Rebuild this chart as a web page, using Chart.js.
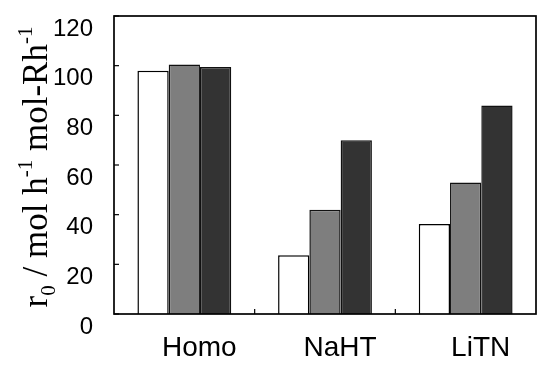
<!DOCTYPE html>
<html>
<head>
<meta charset="utf-8">
<script src="https://cdn.jsdelivr.net/npm/chart.js@4"></script>
<style>
  html, body { margin: 0; padding: 0; background: #fff; }
  #wrap { width: 537px; height: 367px; }
</style>
</head>
<body>
<div id="wrap"><canvas id="myChart"></canvas></div>
<script>
///data
var catalysts = ['Homo', 'NaHT', 'LiTN'];
var series_a = [98, 23.7, 36.2];
var series_b = [100.5, 42, 53];
var series_c = [99.5, 70, 84];
var y_ticks = [0, 20, 40, 60, 80, 100, 120];

//frame + inward tick marks + y title with sub/superscripts
var framePlugin = {
    id: 'frame',
    afterDraw: function(chart){
        var ctx = chart.ctx;
        var a = chart.chartArea;
        var x = chart.scales.x, y = chart.scales.y;
        ctx.save();
        ctx.strokeStyle = '#000';
        ctx.lineWidth = 1.7;
        ctx.strokeRect(a.left, a.top, a.right - a.left, a.bottom - a.top);
        ctx.lineWidth = 1.2;
        //y ticks pointing in
        y.ticks.forEach(function(t){
            var py = y.getPixelForValue(t.value);
            ctx.beginPath();
            ctx.moveTo(a.left, py);
            ctx.lineTo(a.left + 5, py);
            ctx.stroke();
        });
        //x ticks between the groups
        for (var i = 0; i < catalysts.length - 1; i++){
            var px = (x.getPixelForValue(i) + x.getPixelForValue(i + 1)) / 2;
            ctx.beginPath();
            ctx.moveTo(px, a.bottom);
            ctx.lineTo(px, a.bottom - 5);
            ctx.stroke();
        }
        ctx.restore();

        // rotated axis title
        var base = 35;
        var parts = [
            {t: 'r', s: 1, dy: 0},
            {t: '0', s: 0.6, dy: 0.22},
            {t: ' / mol h', s: 1, dy: 0},
            {t: '-1', s: 0.6, dy: -0.42},
            {t: ' mol-Rh', s: 1, dy: 0},
            {t: '-1', s: 0.6, dy: -0.42}
        ];
        ctx.save();
        var total = 0;
        parts.forEach(function(p){
            ctx.font = (base * p.s) + 'px "Liberation Serif", "Times New Roman", serif';
            p.w = ctx.measureText(p.t).width;
            total += p.w;
        });
        ctx.translate(47, 167);
        ctx.rotate(-Math.PI / 2);
        ctx.fillStyle = '#000';
        ctx.textBaseline = 'alphabetic';
        var cx = -total / 2;
        parts.forEach(function(p){
            ctx.font = (base * p.s) + 'px "Liberation Serif", "Times New Roman", serif';
            ctx.fillText(p.t, cx, p.dy * base);
            cx += p.w;
        });
        ctx.restore();
    }
};

var ctx = document.getElementById('myChart').getContext('2d');
var myChart = new Chart(ctx, {
    type: 'bar',
    data: {
        labels: catalysts,
        datasets: [{
            label: 'a',
            data: series_a,
            backgroundColor: '#ffffff',
            borderColor: '#000',
            borderWidth: 1.5
        }, {
            label: 'b',
            data: series_b,
            backgroundColor: '#7e7e7e',
            borderColor: '#111',
            borderWidth: 1.5
        }, {
            label: 'c',
            data: series_c,
            backgroundColor: '#333333',
            borderColor: '#111',
            borderWidth: 1.5
        }]
    },
    options: {
        responsive: true,
        maintainAspectRatio: false,
        animation: false,
        layout: {padding: {top: 16, right: 1, left: 0, bottom: 0}},
        plugins: {
            legend: {display: false},
            tooltip: {enabled: false}
        },
        datasets: {
            bar: {categoryPercentage: 0.667, barPercentage: 1.0}
        },
        scales: {
            x: {
                grid: {display: false, drawTicks: false},
                border: {display: false},
                ticks: {
                    color: '#000',
                    padding: 17,
                    labelOffset: 15,
                    font: {family: '"Liberation Sans", Arial, sans-serif', size: 28}
                },
                afterFit: function(s){
                    s.height = 53;
                    s.paddingLeft = 0;
                    s.paddingRight = 0;
                }
            },
            y: {
                min: 0,
                max: 120,
                grid: {display: false, drawTicks: false},
                border: {display: false},
                afterBuildTicks: function(s){
                    s.ticks = y_ticks.map(function(v){ return {value: v}; });
                },
                ticks: {
                    color: '#000',
                    padding: 21,
                    labelOffset: 13,
                    font: {family: '"Liberation Sans", Arial, sans-serif', size: 24}
                },
                afterFit: function(s){
                    s.width = 114;
                    s.paddingTop = 0;
                    s.paddingBottom = 0;
                }
            }
        }
    },
    plugins: [framePlugin]
});
</script>
</body>
</html>
